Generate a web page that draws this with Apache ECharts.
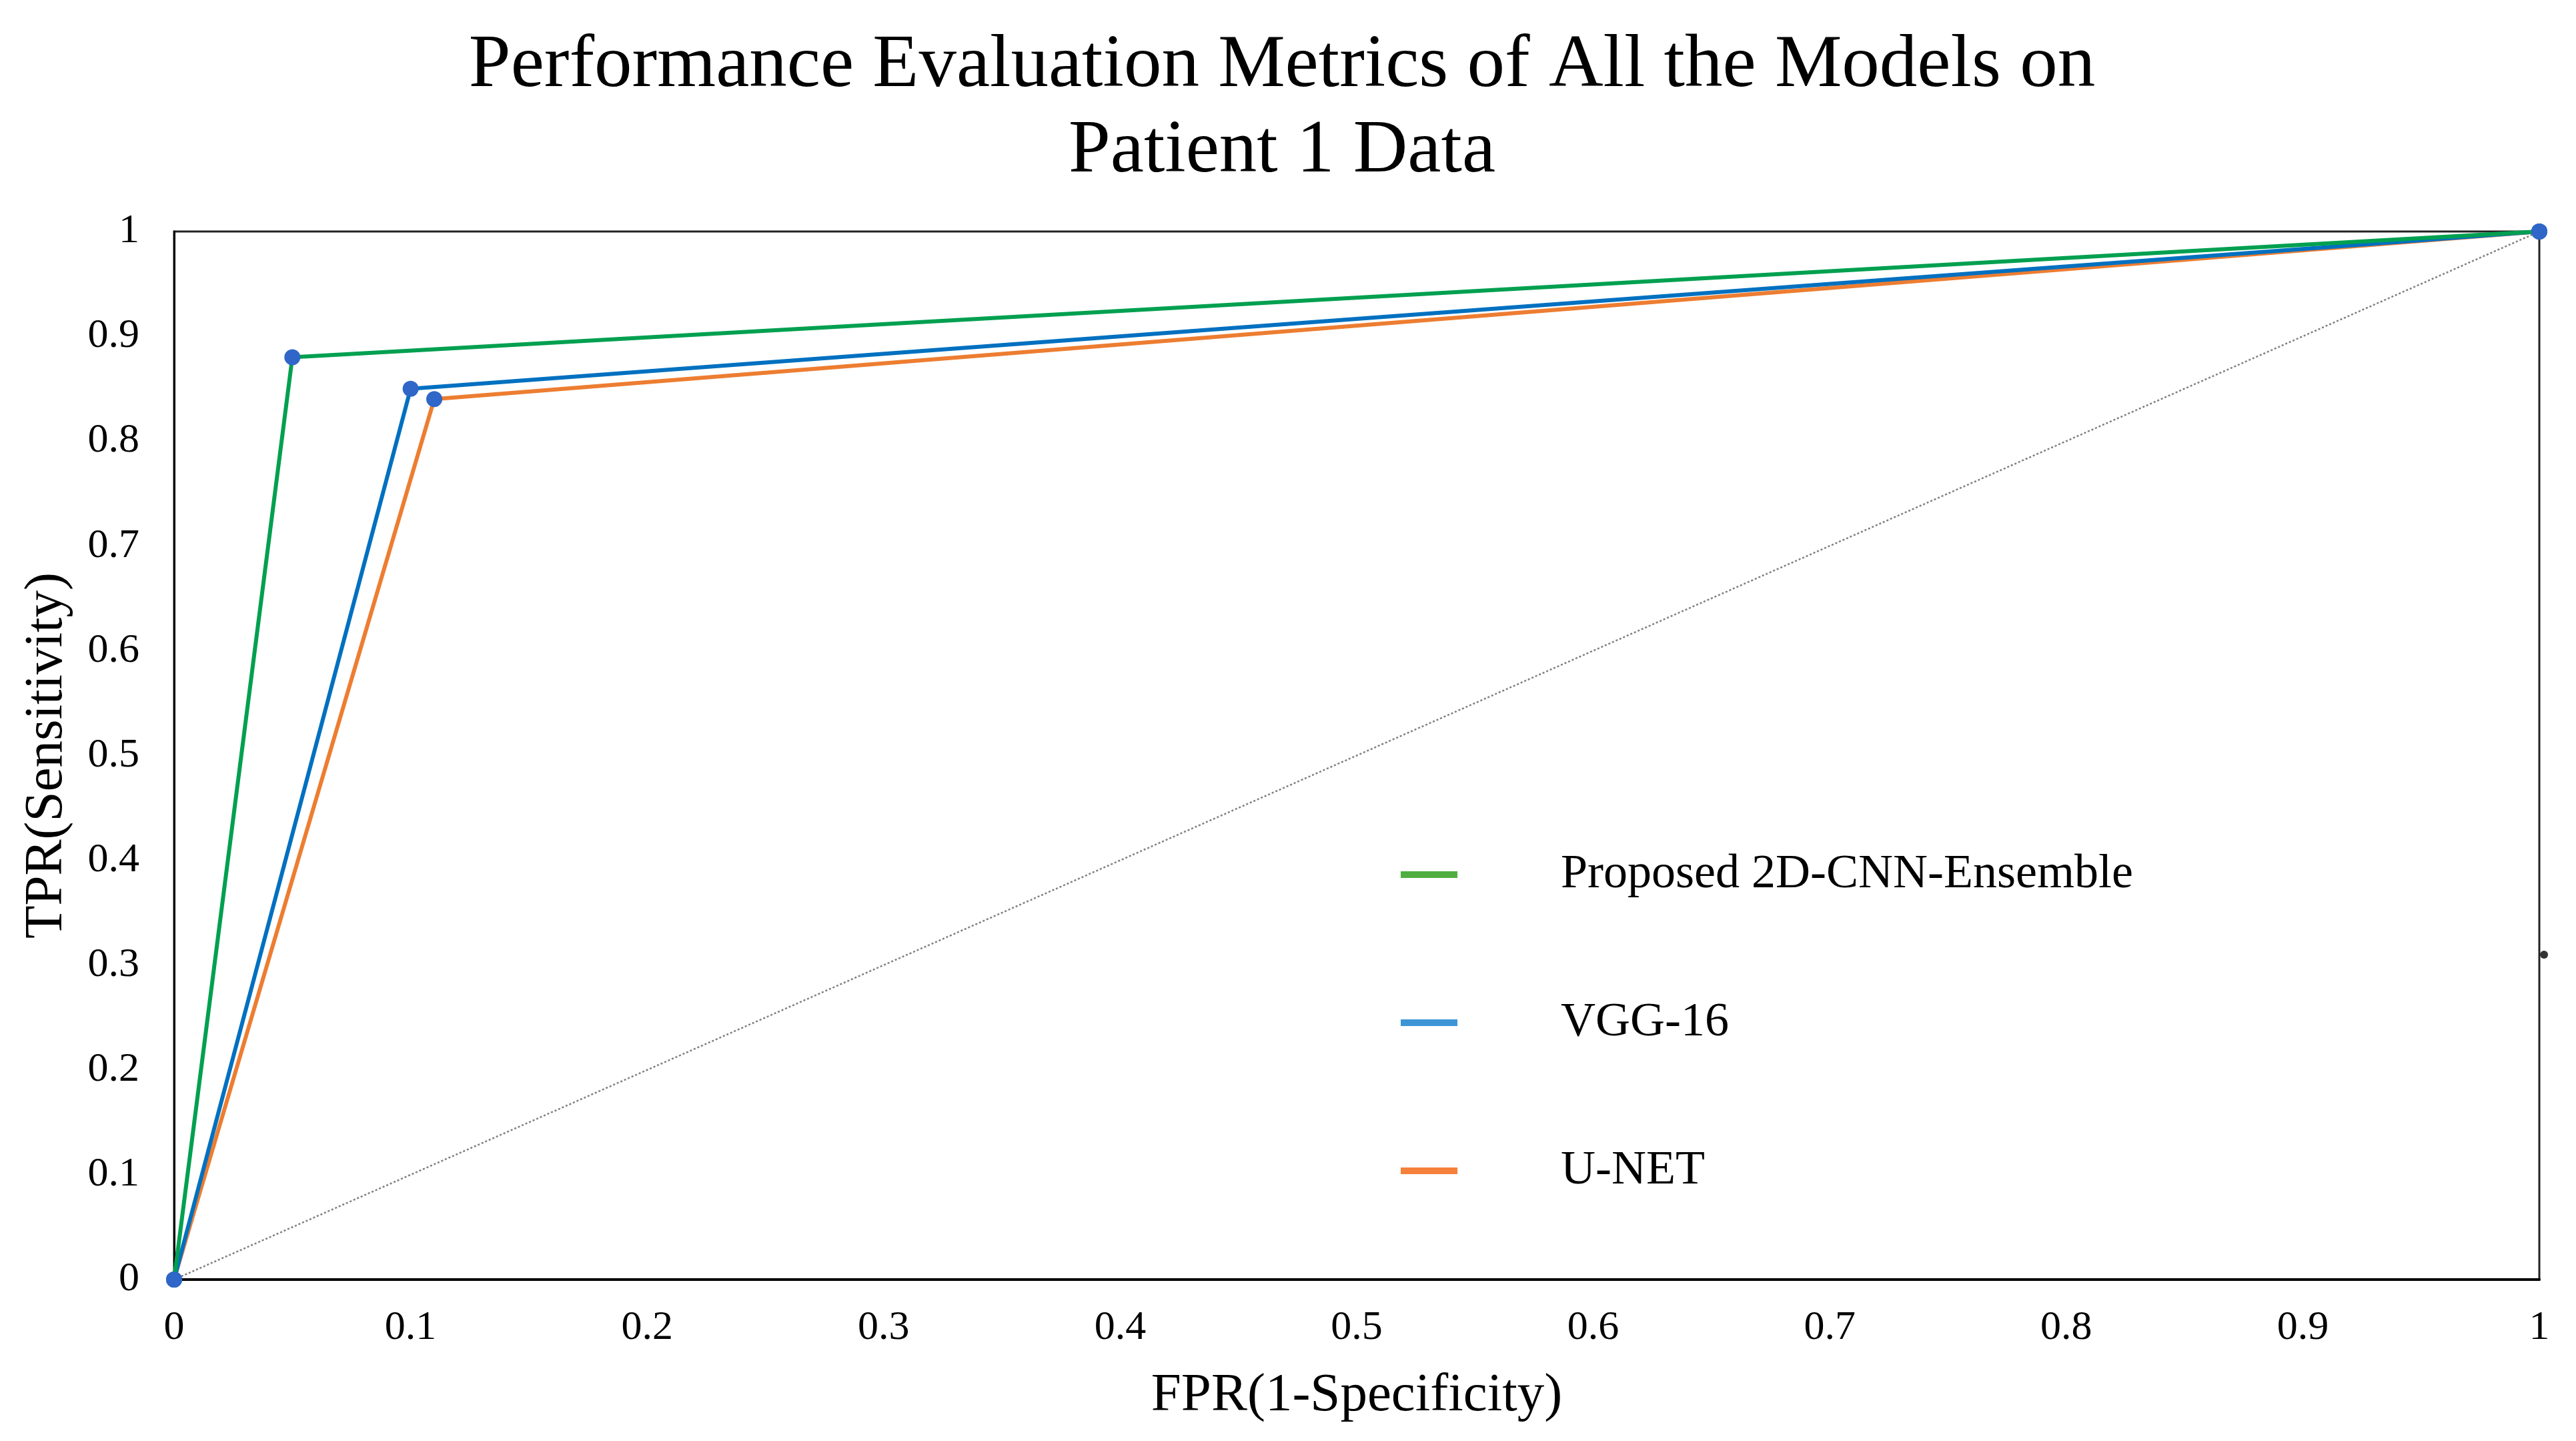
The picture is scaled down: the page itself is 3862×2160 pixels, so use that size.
<!DOCTYPE html>
<html>
<head>
<meta charset="utf-8">
<script src="https://cdn.jsdelivr.net/npm/echarts@6/dist/echarts.min.js"></script>
<style>
html,body{margin:0;padding:0;background:#fff;}
#chart{width:3862px;height:2160px;}
</style>
</head>
<body>
<div id="chart"></div>
<script>
const titleText = 'Performance Evaluation Metrics of All the Models on\nPatient 1 Data';
const xAxisName = 'FPR(1-Specificity)';
const yAxisName = 'TPR(Sensitivity)';
const seriesNames = ['Proposed 2D-CNN-Ensemble', 'VGG-16', 'U-NET'];
const ensembleFPR = [0, 0.05, 1];
const ensembleTPR = [0, 0.88, 1];
const vggFPR = [0, 0.10, 1];
const vggTPR = [0, 0.85, 1];
const unetFPR = [0, 0.11, 1];
const unetTPR = [0, 0.84, 1];
const diagonalFPR = [0, 1];
const diagonalTPR = [0, 1];
const strayPoint = [1.002, 0.31];

const lineColors = ['#00A050', '#0070C0', '#ED7D31'];
const legendColors = ['#4FAE3F', '#3D95D6', '#F5803A'];
const markerColor = '#2F66C8';
const font = 'Liberation Serif';

function pairs(xs, ys){ return xs.map((x,i)=>[x, ys[i]]); }

const chart = echarts.init(document.getElementById('chart'));
const curves = [pairs(ensembleFPR, ensembleTPR), pairs(vggFPR, vggTPR), pairs(unetFPR, unetTPR)];

const series = [{
  name: 'diag', type: 'line', data: pairs(diagonalFPR, diagonalTPR),
  symbol: 'none', lineStyle: {color: '#7f7f7f', width: 2.5, type: [3, 3]}, z: 1, silent: true
}];
[2,1,0].forEach(i => {
  series.push({
    name: seriesNames[i], type: 'line', data: curves[i],
    symbol: 'circle', symbolSize: 24,
    itemStyle: {color: markerColor},
    lineStyle: {color: lineColors[i], width: 6},
    z: 3 + (2 - i)
  });
});
series.push({
  name: 'stray', type: 'scatter', data: [strayPoint], symbolSize: 12,
  itemStyle: {color: '#000'}, clip: false, silent: true, z: 10
});

chart.setOption({
  backgroundColor: '#fff',
  animation: false,
  title: {
    text: titleText, left: 1917, top: 30, textAlign: 'center',
    textStyle: {fontFamily: font, fontSize: 113, fontWeight: 'normal', color: '#000', lineHeight: 128}
  },
  legend: {
    orient: 'vertical', left: 2095, top: 1270,
    itemWidth: 85, itemHeight: 10, itemGap: 150, icon: 'rect',
    textStyle: {fontFamily: font, fontSize: 72, color: '#000', padding: [0,0,0,150]},
    data: seriesNames.map((n,i)=>({name: n, itemStyle: {color: legendColors[i]}}))
  },
  grid: {left: 261, right: 3862-3807, top: 347, bottom: 2160-1918, show: true, borderColor: '#222', borderWidth: 3},
  xAxis: {
    type: 'value', min: 0, max: 1, interval: 0.1,
    name: xAxisName, nameLocation: 'middle', nameGap: 134,
    nameTextStyle: {fontFamily: font, fontSize: 81, color: '#000'},
    axisLine: {show: true, lineStyle: {color: '#000', width: 4}},
    axisTick: {show: false}, splitLine: {show: false},
    axisLabel: {fontFamily: font, fontSize: 62, color: '#000', margin: 42,
      formatter: v => String(Math.round(v*10)/10)}
  },
  yAxis: {
    type: 'value', min: 0, max: 1, interval: 0.1,
    name: yAxisName, nameLocation: 'middle', nameGap: 150, nameRotate: 90,
    nameTextStyle: {fontFamily: font, fontSize: 81, color: '#000'},
    axisLine: {show: true, lineStyle: {color: '#000', width: 3}},
    axisTick: {show: false}, splitLine: {show: false},
    axisLabel: {fontFamily: font, fontSize: 62, color: '#000', margin: 52,
      formatter: v => String(Math.round(v*10)/10)}
  },
  series: series
});
</script>
</body>
</html>
